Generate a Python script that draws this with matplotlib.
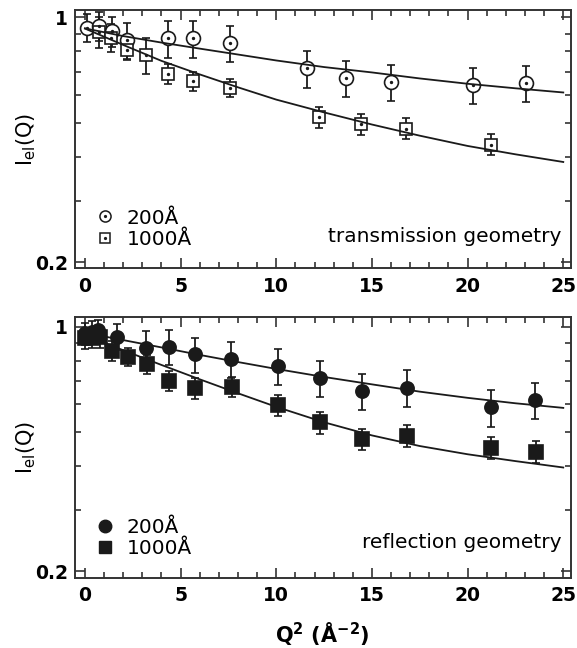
import matplotlib.pyplot as plt
from matplotlib.lines import Line2D
from matplotlib.ticker import FixedLocator, MultipleLocator, NullFormatter, FuncFormatter

plt.rcParams['font.family'] = ['DejaVu Sans']

# transmission geometry
tr_q200 = [0.09, 0.75, 1.4, 2.18, 4.36, 5.67, 7.58, 11.59, 13.65, 16.0, 20.28, 23.07]
tr_i200 = [0.935, 0.945, 0.915, 0.862, 0.872, 0.872, 0.844, 0.716, 0.673, 0.654, 0.641, 0.651]
tr_e200 = [0.085, 0.09, 0.09, 0.1, 0.104, 0.104, 0.1, 0.085, 0.08, 0.078, 0.076, 0.077]

tr_q1000 = [0.75, 1.34, 2.18, 3.19, 4.36, 5.67, 7.58, 12.24, 14.42, 16.8, 21.22]
tr_i1000 = [0.911, 0.876, 0.808, 0.782, 0.690, 0.659, 0.630, 0.521, 0.496, 0.482, 0.434]
tr_e1000 = [0.09, 0.08, 0.05, 0.09, 0.045, 0.042, 0.038, 0.036, 0.034, 0.033, 0.03]

# reflection geometry
re_q200 = [0.0, 0.35, 0.7, 1.66, 3.19, 4.39, 5.75, 7.64, 10.08, 12.26, 14.47, 16.82, 21.22, 23.54]
re_i200 = [0.956, 0.965, 0.977, 0.935, 0.870, 0.876, 0.833, 0.808, 0.771, 0.714, 0.654, 0.670, 0.588, 0.617]
re_e200 = [0.07, 0.07, 0.07, 0.08, 0.1, 0.1, 0.095, 0.095, 0.09, 0.085, 0.078, 0.08, 0.07, 0.073]

re_q1000 = [0.0, 0.35, 0.78, 1.43, 2.23, 3.22, 4.41, 5.75, 7.67, 10.08, 12.3, 14.5, 16.82, 21.22, 23.6]
re_i1000 = [0.925, 0.93, 0.931, 0.853, 0.820, 0.780, 0.700, 0.666, 0.673, 0.597, 0.533, 0.477, 0.488, 0.451, 0.439]
re_e1000 = [0.06, 0.06, 0.06, 0.055, 0.05, 0.05, 0.045, 0.045, 0.045, 0.04, 0.038, 0.034, 0.035, 0.032, 0.031]

# fit curves
fit_q = [0, 2, 4, 6, 8, 10, 12.5, 15, 17.5, 20, 22.5, 25]
tr_fit200 = [0.931, 0.885, 0.848, 0.815, 0.784, 0.754, 0.722, 0.697, 0.670, 0.647, 0.628, 0.611]
tr_fit1000 = [0.93, 0.835, 0.752, 0.688, 0.632, 0.583, 0.536, 0.495, 0.460, 0.430, 0.407, 0.387]
re_fit200 = [0.96, 0.915, 0.872, 0.830, 0.792, 0.757, 0.718, 0.684, 0.652, 0.626, 0.604, 0.586]
re_fit1000 = [0.945, 0.856, 0.777, 0.707, 0.645, 0.590, 0.533, 0.489, 0.456, 0.432, 0.413, 0.396]

c = '#1a1a1a'
spine_c = '#333333'

fig = plt.figure(figsize=(5.77, 6.48), dpi=100)
ax1 = fig.add_axes([0.130, 0.586, 0.8588, 0.3978])
ax2 = fig.add_axes([0.130, 0.108, 0.8588, 0.4028])


def draw(ax, q, i, e, filled, marker, ms):
    ax.errorbar(q, i, yerr=e, fmt=marker, ms=ms, mfc=c if filled else 'white', mec=c,
                mew=1.2, ecolor=c, elinewidth=1.3, capsize=3.2, capthick=1.3, zorder=3)
    if not filled:
        ax.plot(q, i, 'o', ms=1.4, color=c, zorder=4)


def style(ax, ylim):
    ax.set_yscale('log')
    ax.set_xlim(-0.52, 25.38)
    ax.set_ylim(*ylim)
    ax.yaxis.set_major_locator(FixedLocator([0.2, 1]))
    ax.yaxis.set_major_formatter(FuncFormatter(lambda v, p: '1' if v > 0.5 else '0.2'))
    ax.yaxis.set_minor_locator(FixedLocator([0.3, 0.4, 0.5, 0.6, 0.7, 0.8, 0.9]))
    ax.yaxis.set_minor_formatter(NullFormatter())
    ax.xaxis.set_major_locator(MultipleLocator(5))
    ax.xaxis.set_minor_locator(MultipleLocator(1))
    ax.tick_params(which='both', direction='in', top=True, right=True, width=1.2, color=spine_c)
    ax.tick_params(which='major', length=7)
    ax.tick_params(which='minor', length=4)
    ax.tick_params(axis='x', pad=6)
    ax.tick_params(axis='y', pad=5)
    for lab in ax.get_xticklabels() + ax.get_yticklabels():
        lab.set_fontweight('bold')
        lab.set_fontsize(13.5)
    for s in ax.spines.values():
        s.set_linewidth(1.4)
        s.set_color(spine_c)
    ax.set_ylabel(r'I$_{\mathrm{el}}$(Q)', fontsize=15, va='center')
    ax.yaxis.set_label_coords(-0.099, 0.5)


# top panel
draw(ax1, tr_q200, tr_i200, tr_e200, False, 'o', 10)
draw(ax1, tr_q1000, tr_i1000, tr_e1000, False, 's', 9)
ax1.plot(fit_q, tr_fit200, '-', color=c, lw=1.3, zorder=5)
ax1.plot(fit_q, tr_fit1000, '-', color=c, lw=1.3, zorder=5)
style(ax1, (0.1925, 1.047))

# bottom panel
draw(ax2, re_q200, re_i200, re_e200, True, 'o', 9.5)
draw(ax2, re_q1000, re_i1000, re_e1000, True, 's', 10)
ax2.plot(fit_q, re_fit200, '-', color=c, lw=1.3, zorder=5)
ax2.plot(fit_q, re_fit1000, '-', color=c, lw=1.3, zorder=5)
style(ax2, (0.1915, 1.065))

# legends
h_open = [(Line2D([], [], ls='', marker='o', ms=8, mfc='white', mec=c, mew=1.1),
           Line2D([], [], ls='', marker='o', ms=1.3, color=c)),
          (Line2D([], [], ls='', marker='s', ms=7.5, mfc='white', mec=c, mew=1.1),
           Line2D([], [], ls='', marker='o', ms=1.3, color=c))]
h_fill = [Line2D([], [], ls='', marker='o', ms=9, color=c),
          Line2D([], [], ls='', marker='s', ms=9, color=c)]
for ax, h in [(ax1, h_open), (ax2, h_fill)]:
    ax.legend(h, ['200Å', '1000Å'], loc='lower left', bbox_to_anchor=(0.041, 0.075),
              frameon=False, fontsize=14.5, handlelength=1.0, handletextpad=0.55,
              borderpad=0, borderaxespad=0, labelspacing=0.12)

ax1.text(0.982, 0.125, 'transmission geometry', transform=ax1.transAxes,
         ha='right', va='center', fontsize=14.5)
ax2.text(0.982, 0.135, 'reflection geometry', transform=ax2.transAxes,
         ha='right', va='center', fontsize=14.5)

ax2.set_xlabel(r'Q$^{\mathbf{2}}$ (Å$^{\mathbf{-2}}$)', fontsize=15, fontweight='bold', va='center')
ax2.xaxis.set_label_coords(0.5, -0.2146)

fig.savefig('out.png', dpi=100)
